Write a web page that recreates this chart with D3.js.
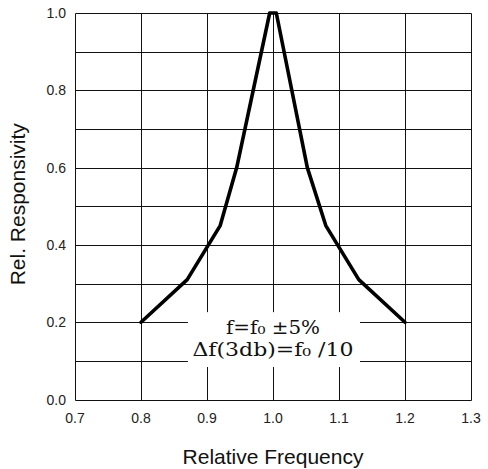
<!DOCTYPE html>
<html>
<head>
<meta charset="utf-8">
<script src="https://cdn.jsdelivr.net/npm/d3@7"></script>
<style>
  html, body { margin: 0; padding: 0; background: #fff; }
  svg { display: block; }
</style>
</head>
<body>
<svg id="chart" width="488" height="469"></svg>
<script>
// ---- data ----
const freq = [0.8, 0.87, 0.92, 0.945, 0.995, 1.005, 1.052, 1.08, 1.13, 1.2];
const resp = [0.2, 0.31, 0.45, 0.6, 1.0, 1.0, 0.6, 0.45, 0.31, 0.2];
const xTicks = [0.7, 0.8, 0.9, 1.0, 1.1, 1.2, 1.3];
const yGrid = [0, 0.1, 0.2, 0.3, 0.4, 0.5, 0.6, 0.7, 0.8, 0.9, 1.0];
const yTickLabels = [0, 0.2, 0.4, 0.6, 0.8, 1.0];
const xTitle = "Relative Frequency";
const yTitle = "Rel. Responsivity";
const noteLines = ["f=f\u2080 \u00b15%", "\u0394f(3db)=f\u2080 /10"];

// ---- layout ----
const svg = d3.select("#chart");
const margin = {left: 75, top: 13, right: 17, bottom: 69.5};
const W = 488, H = 469;
const x = d3.scaleLinear().domain([0.7, 1.3]).range([margin.left, W - margin.right]);
const y = d3.scaleLinear().domain([0, 1]).range([H - margin.bottom, margin.top]);

// grid
const grid = svg.append("g").attr("transform", "translate(0.5,0.5)")
  .attr("stroke", "#111").attr("stroke-width", 1).attr("fill", "none");
grid.selectAll("line.v").data(xTicks).join("line").attr("class", "v")
  .attr("x1", d => Math.round(x(d))).attr("x2", d => Math.round(x(d)))
  .attr("y1", Math.round(y(0))).attr("y2", Math.round(y(1)));
grid.selectAll("line.h").data(yGrid).join("line").attr("class", "h")
  .attr("y1", d => Math.round(y(d))).attr("y2", d => Math.round(y(d)))
  .attr("x1", Math.round(x(0.7))).attr("x2", Math.round(x(1.3)));

// annotation box (white) + text
const noteG = svg.append("g");
const noteRect = noteG.append("rect").attr("fill", "#fff");
const noteText = noteG.append("text")
  .attr("font-family", "'DejaVu Serif', 'Liberation Serif', serif")
  .attr("font-size", 19).attr("fill", "#111").attr("text-anchor", "middle");
noteText.append("tspan").attr("x", x(1.0)).attr("y", y(0.17)).text(noteLines[0])
  .attr("textLength", 94).attr("lengthAdjust", "spacingAndGlyphs");
noteText.append("tspan").attr("x", x(1.0)).attr("y", y(0.113)).text(noteLines[1])
  .attr("textLength", 161).attr("lengthAdjust", "spacingAndGlyphs");
noteRect.attr("x", x(0.871)).attr("y", y(0.226))
  .attr("width", x(1.1318) - x(0.871)).attr("height", y(0.084) - y(0.226));

// curve
const pts = freq.map((f, i) => [f, resp[i]]);
svg.append("path").datum(pts)
  .attr("fill", "none").attr("stroke", "#000").attr("stroke-width", 3.6)
  .attr("stroke-linejoin", "round").attr("stroke-linecap", "round")
  .attr("d", d3.line().x(d => x(d[0])).y(d => y(d[1])));

// tick labels
const font = "'Liberation Sans', Arial, sans-serif";
svg.append("g").selectAll("text").data(xTicks).join("text")
  .attr("x", d => x(d)).attr("y", y(0) + 23)
  .attr("text-anchor", "middle").attr("font-family", font).attr("font-size", 14)
  .attr("fill", "#222").text(d => d.toFixed(1));
svg.append("g").selectAll("text").data(yTickLabels).join("text")
  .attr("x", x(0.7) - 9).attr("y", d => y(d)).attr("dy", "0.36em")
  .attr("text-anchor", "end").attr("font-family", font).attr("font-size", 14)
  .attr("fill", "#222").text(d => d.toFixed(1));

// axis titles
svg.append("text").attr("x", x(1.0)).attr("y", 464)
  .attr("text-anchor", "middle").attr("font-family", font).attr("font-size", 21)
  .attr("fill", "#111").text(xTitle);
svg.append("text").attr("transform", `translate(25,${(y(0) + y(1)) / 2 - 2}) rotate(-90)`)
  .attr("text-anchor", "middle").attr("font-family", font).attr("font-size", 21)
  .attr("fill", "#111").text(yTitle);
</script>
</body>
</html>
